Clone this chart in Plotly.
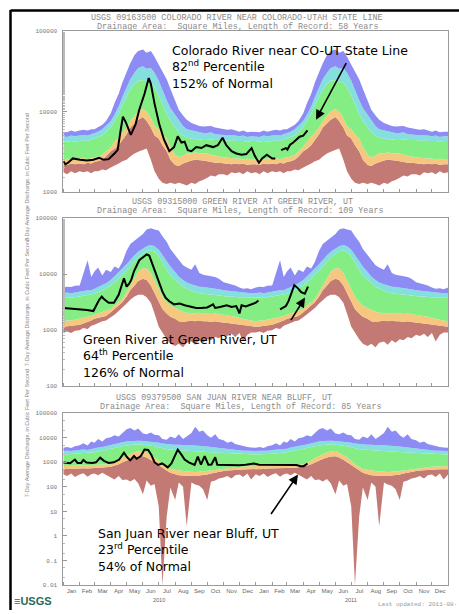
import plotly.graph_objects as go

# ---------------- data ----------------
DAYS = [1, 8, 16, 23]  # 4 statistic points per month (day-of-year statistics, same each year)

# Panel 1: Colorado River near Colorado-Utah state line (cfs)
co_max = [5600,5500,5800,5600, 5800,5900,5800,6000, 6000,6300,6800,7600, 9500,12600,16600,22900,
          31600,39800,50100,56200, 58900,53700,56200,47900, 38000,31600,25100,19100, 13200,10500,8900,7900,
          7200,6900,6600,6500, 6500,6600,6300,6200, 6000,5900,6000,5800, 5600,5800,5500,5600]
co_p90 = [4900,4800,5000,4900, 5000,5100,5000,5200, 5400,5600,6000,6600, 7600,9100,11500,15100,
          20000,25100,30200,34700, 36300,33900,34700,30200, 24000,18200,13800,11000, 9100,7600,6600,6000,
          5800,5600,5500,5400, 5400,5500,5200,5200, 5100,5000,5100,5000, 4900,5000,4800,4900]
co_p75 = [4300,4200,4300,4200, 4300,4400,4300,4500, 4600,4800,5000,5500, 6300,7600,9300,12000,
          15100,18600,21900,24000, 24500,23400,22900,20000, 15800,12000,9300,7600, 6300,5500,5000,4700,
          4600,4500,4500,4400, 4400,4500,4400,4400, 4400,4300,4400,4300, 4300,4300,4200,4300]
co_p25 = [2500,2600,2500,2600, 2600,2650,2550,2650, 2700,2750,2900,3200, 3600,4200,4800,5500,
          6300,7600,8900,10000, 10700,10000,8300,6600, 6000,5200,4600,3600, 2900,2700,2800,3000,
          3000,3100,3000,3000, 3000,2900,2800,2750, 2700,2650,2650,2600, 2600,2500,2600,2500]
co_p10 = [2200,2150,2250,2200, 2250,2200,2300,2250, 2350,2400,2500,2750, 3200,3400,3800,4400,
          5200,6300,7200,7900, 8500,7600,6300,5000, 4600,3800,3200,2500, 2150,2100,2250,2350,
          2450,2500,2500,2450, 2400,2350,2300,2300, 2250,2250,2200,2250, 2200,2250,2150,2200]
co_min = [1750,1650,1800,1700, 1800,1750,1800,1700, 1800,1800,1900,1850, 2000,2100,2250,2400,
          2500,2750,3000,3150, 3300,3450,2500,1800, 1450,1300,1250,1300, 1250,1300,1250,1200,
          1300,1250,1350,1400, 1500,1600,1550,1650, 1650,1600,1750,1700, 1750,1650,1800,1700]
co_obs_dates = ["2010-01-01","2010-01-05","2010-01-10","2010-01-19","2010-02-02","2010-02-15","2010-02-27",
                "2010-03-10","2010-03-19","2010-03-28","2010-04-08","2010-04-14","2010-04-20","2010-04-24",
                "2010-04-30","2010-05-09","2010-05-18","2010-05-25","2010-06-04","2010-06-12","2010-06-16",
                "2010-06-23","2010-07-02","2010-07-11","2010-07-21","2010-07-30","2010-08-06","2010-08-13",
                "2010-08-19","2010-08-25","2010-09-01","2010-09-10","2010-09-20","2010-09-29","2010-10-12",
                "2010-10-21","2010-10-30","2010-11-06","2010-11-16","2010-11-25","2010-12-05","2010-12-14",
                "2010-12-24","2010-12-30","2011-01-07","2011-01-13","2011-01-22","2011-02-01","2011-02-07",
                "2011-02-12",
                "2011-02-18","2011-02-27","2011-03-02","2011-03-07","2011-03-13","2011-03-19","2011-03-25",
                "2011-04-01","2011-04-09"]
co_obs = [2400,2200,2300,2600,2500,2450,2500,
          2650,2500,2550,3000,3300,6000,8600,
          7200,5100,6900,10500,16600,26000,22000,
          12500,6900,4450,3200,3600,4900,4100,
          4200,3300,3200,3600,3500,3800,3600,
          3800,4700,3800,3200,3000,2900,2950,
          3500,2800,2300,2600,2900,2600,2600,
          None,
          3300,3500,3350,3850,4100,4450,4850,
          5000,5800]

# Panel 2: Green River at Green River, UT (cfs)
gr_max = [5800,6000,5900,6200, 6300,10000,17800,8900, 11200,13200,9500,12000, 11000,13800,12600,16600,
          26300,34700,39800,45700, 52500,63100,66100,63100, 60300,47900,38000,28200, 21900,17400,14500,13200,
          12000,15100,10500,9800, 9500,9100,8900,8300, 7200,6900,6600,6300, 5800,5500,5600,5400]
gr_p90 = [4600,4700,4600,4700, 4800,5000,5200,5200, 5500,5900,6300,6900, 7900,9100,10500,12600,
          15100,18200,21900,25100, 28200,31600,33100,31600, 27500,21900,17400,13800, 11000,9100,7900,7100,
          6600,6300,6000,5900, 5800,5600,5500,5400, 5200,5100,5000,4900, 4800,4700,4700,4600]
gr_p75 = [3800,3800,3900,3900, 4000,4100,4200,4300, 4500,4800,5100,5600, 6300,7200,8300,9800,
          11500,13800,16600,20000, 22900,25700,26900,25100, 20900,15800,12000,9500, 7900,6800,6000,5500,
          5000,4800,4600,4500, 4400,4300,4300,4200, 4100,4000,4000,3900, 3900,3800,3800,3800]
gr_p25 = [1450,1500,1500,1550, 1600,1650,1750,1800, 1900,2000,2100,2200, 2400,2750,3150,3600,
          4800,6300,8300,11000, 12900,12600,10500,7600, 5200,4000,3150,2750, 2500,2300,2150,2050,
          2000,2000,2050,2000, 2000,1950,2000,1950, 1900,1850,1800,1750, 1650,1600,1500,1500]
gr_p10 = [1150,1170,1200,1200, 1260,1320,1400,1500, 1600,1650,1750,1800, 2100,2400,2750,3150,
          4000,5200,6300,7600, 8300,7900,6300,4600, 3150,2400,2000,1750, 1600,1450,1400,1450,
          1500,1450,1500,1450, 1450,1400,1450,1400, 1380,1350,1320,1290, 1260,1230,1200,1170]
gr_min = [910,950,890,980, 1000,1100,1050,1200, 1250,1350,1450,1500, 1700,1900,2200,2500,
          3000,3500,4000,4300, 4300,3900,3100,2000, 1150,910,690,575, 525,575,500,600,
          630,550,660,600, 690,660,760,720, 830,790,870,760, 890,630,830,910]
gr_obs_dates = ["2010-01-01","2010-01-16","2010-02-01","2010-02-15","2010-02-27","2010-03-04","2010-03-10",
                "2010-03-15","2010-03-19","2010-03-28","2010-04-07","2010-04-16","2010-04-22","2010-04-26",
                "2010-05-01","2010-05-06","2010-05-10","2010-05-15","2010-05-25","2010-06-04","2010-06-08",
                "2010-06-13","2010-06-19","2010-06-26","2010-07-01","2010-07-08","2010-07-14","2010-07-21",
                "2010-07-30","2010-08-10","2010-08-19","2010-09-01","2010-09-10","2010-09-19","2010-10-01",
                "2010-10-12","2010-10-16","2010-10-25","2010-11-07","2010-11-16","2010-11-25","2010-12-01",
                "2010-12-05","2010-12-13","2010-12-22","2011-01-01","2011-01-06",
                "2011-01-20",
                "2011-02-16","2011-02-27","2011-03-04","2011-03-10","2011-03-15","2011-03-22","2011-03-28",
                "2011-04-04","2011-04-10"]
gr_obs = [2500,2450,2400,2300,2200,2800,3500,
          4000,3600,3100,3100,4300,6500,8500,
          6000,6800,8000,11300,17800,21000,22500,
          21500,15000,9800,7000,4900,3800,3300,
          2900,3000,2800,2600,2500,2500,2550,
          2900,2500,2600,2800,2600,2700,2000,
          2800,2650,2900,3100,3400,
          None,
          2350,2700,3300,4800,6400,5600,4800,
          4500,6000]

# Panel 3: San Juan River near Bluff, UT (cfs)
sj_max = [3900,4200,3800,4500, 5000,6000,4800,7100, 6300,8900,7100,9500, 10500,12600,11200,15800,
          22400,25100,20000,24000, 15100,14100,16600,13200, 12600,8900,8300,11200, 9500,14100,8900,11200,
          15800,28200,17800,20000, 12600,10000,14100,8900, 7900,6300,7100,5600, 5000,4500,4200,4000]
sj_p90 = [2900,3000,2900,3000, 3200,3300,3200,3500, 3600,4000,4200,4600, 5000,5500,6000,6600,
          7100,7400,7600,7600, 7400,7200,6900,6600, 6300,5900,5600,5500, 5200,5200,5000,5000,
          5000,4900,4800,4600, 4400,4200,4000,3800, 3600,3500,3300,3200, 3100,3000,3000,2900]
sj_p75 = [2100,2150,2100,2200, 2250,2300,2350,2450, 2600,2750,2950,3150, 3450,3800,4200,4600,
          4900,5100,5400,5400, 5200,5000,4800,4500, 4100,3700,3450,3300, 3150,3100,3000,2950,
          2900,2800,2750,2700, 2650,2550,2500,2450, 2350,2300,2250,2200, 2150,2150,2100,2100]
sj_p25 = [710,720,710,740, 740,760,740,780, 760,790,780,810, 830,950,1150,1450,
          1800,2200,2500,2800, 2900,2500,2000,1600, 1100,830,660,550, 500,460,440,420,
          400,400,410,420, 440,460,490,520, 550,580,600,630, 660,680,690,710]
sj_p10 = [520,550,540,560, 560,580,560,590, 590,600,600,630, 660,720,830,1000,
          1200,1380,1580,1740, 1780,1580,1260,1000, 760,580,460,380, 330,300,290,280,
          280,280,290,300, 320,350,380,420, 440,460,480,500, 500,510,520,520]
sj_min = [330,280,350,250, 320,360,260,330, 350,300,380,320, 250,200,280,190,
          200,165,210,140, 50,180,110,130, 16,0.01,6,95, 29,150,100,2.5,
          150,125,110,80, 29,160,180,220, 240,280,220,300, 320,250,350,200]
sj_obs_dates = ["2010-01-01","2010-01-09","2010-01-14","2010-01-23","2010-01-28","2010-02-04","2010-02-08",
                "2010-02-14","2010-02-25","2010-03-04","2010-03-12","2010-03-19","2010-03-28","2010-04-07",
                "2010-04-17","2010-04-26","2010-05-02","2010-05-08","2010-05-15","2010-05-20","2010-05-28",
                "2010-06-04","2010-06-11","2010-06-17","2010-06-23","2010-06-30","2010-07-07","2010-07-11",
                "2010-07-18","2010-07-25","2010-08-01","2010-08-06","2010-08-12","2010-08-19","2010-08-27",
                "2010-09-02","2010-09-07","2010-09-13","2010-09-19","2010-09-26","2010-10-03","2010-10-09",
                "2010-10-16","2010-10-20","2010-11-01","2010-11-16","2010-12-01","2010-12-13","2010-12-28",
                "2011-01-07","2011-01-25","2011-02-10","2011-02-25","2011-03-07","2011-03-19","2011-03-27",
                "2011-04-02","2011-04-09"]
sj_obs = [980,950,920,1300,950,950,1250,
          980,950,1000,1550,1150,950,1000,
          1300,2450,1600,1200,1800,1400,1800,
          3300,3200,2000,1000,780,900,800,
          620,900,1800,3300,2200,1300,1000,
          850,780,1700,800,1800,800,820,
          1600,800,780,780,760,800,900,
          800,790,780,820,800,780,700,
          700,900]

STATIONS = [
    ("USGS 09163500 COLORADO RIVER NEAR COLORADO-UTAH STATE LINE",
     "Drainage Area:  Square Miles, Length of Record: 58 Years"),
    ("USGS 09315000 GREEN RIVER AT GREEN RIVER, UT",
     "Drainage Area:  Square Miles, Length of Record: 109 Years"),
    ("USGS 09379500 SAN JUAN RIVER NEAR BLUFF, UT",
     "Drainage Area:  Square Miles, Length of Record: 85 Years"),
]
LABELS = [
    "Colorado River near CO-UT State Line<br>82<sup>nd</sup> Percentile<br>152% of Normal",
    "Green River at Green River, UT<br>64<sup>th</sup> Percentile<br>126% of Normal",
    "San Juan River near Bluff, UT<br>23<sup>rd</sup> Percentile<br>54% of Normal",
]

# ---------------- figure ----------------
W, H = 459, 614
grid = [f"{y}-{m:02d}-{d:02d}" for y in (2010, 2011) for m in range(1, 13) for d in DAYS] + ["2012-01-01"]


def two_years(v):
    return v + v + [v[0]]


COLORS = ["#c47a74", "#f6c77e", "#84ee84", "#86dfdf", "#8c8cf4"]

panels = [
    ([co_min, co_p10, co_p25, co_p75, co_p90, co_max], co_obs_dates, co_obs),
    ([gr_min, gr_p10, gr_p25, gr_p75, gr_p90, gr_max], gr_obs_dates, gr_obs),
    ([sj_min, sj_p10, sj_p25, sj_p75, sj_p90, sj_max], sj_obs_dates, sj_obs),
]

fig = go.Figure()
for i, (bands, odates, obs) in enumerate(panels):
    xa = "x" if i == 0 else f"x{i+1}"
    ya = "y" if i == 0 else f"y{i+1}"
    for j, band in enumerate(bands):
        fig.add_trace(go.Scatter(
            x=grid, y=two_years(band), xaxis=xa, yaxis=ya, mode="lines",
            line=dict(width=0, color=COLORS[max(j - 1, 0)]),
            fill=None if j == 0 else "tonexty",
            fillcolor=None if j == 0 else COLORS[j - 1],
            hoverinfo="skip", showlegend=False))
    fig.add_trace(go.Scatter(
        x=odates, y=obs, xaxis=xa, yaxis=ya, mode="lines",
        line=dict(color="black", width=2), connectgaps=False, showlegend=False))


def py(p):
    return 1 - p / H


def px(p):
    return p / W


XDOM = [px(63.3), px(448.3)]
YDOMS = [[py(191), py(28.3)], [py(387.7), py(217.7)], [py(588.7), py(415)]]
YRANGES = [[3, 5], [2, 5], [-2, 5]]
YTICKS = [[1000, 10000, 100000], [100, 1000, 10000, 100000],
          [0.01, 0.1, 1, 10, 100, 1000, 10000, 100000]]
YTEXT = [["1000", "10000", "100000"], ["100", "1000", "10000", "100000"],
         ["0.01", "0.1", "1", "10", "100", "1000", "10000", "100000"]]

layout = dict(width=W, height=H, margin=dict(l=0, r=0, t=0, b=0),
              paper_bgcolor="white", plot_bgcolor="white", showlegend=False)
for i in range(3):
    xk = "xaxis" if i == 0 else f"xaxis{i+1}"
    yk = "yaxis" if i == 0 else f"yaxis{i+1}"
    ya = "y" if i == 0 else f"y{i+1}"
    xa = "x" if i == 0 else f"x{i+1}"
    layout[xk] = dict(domain=XDOM, anchor=ya, type="date",
                      range=["2010-01-01", "2012-01-01"],
                      dtick="M1", tick0="2010-01-01", ticklabelmode="period",
                      tickformat="%b", ticks="inside", ticklen=3, tickcolor="#999",
                      showticklabels=(i == 2), ticklabelstandoff=0,
                      tickfont=dict(family="Liberation Sans", size=6, color="#666"),
                      showgrid=False, zeroline=False,
                      showline=True, mirror=True, linecolor="#9a9a9a", linewidth=1)
    layout[yk] = dict(domain=YDOMS[i], anchor=xa, type="log", range=YRANGES[i],
                      tickvals=YTICKS[i], ticktext=YTEXT[i],
                      ticks="inside", ticklen=4, tickcolor="#999",
                      minor=dict(ticks="inside", ticklen=2, tickcolor="#bbb", showgrid=False),
                      tickfont=dict(family="Liberation Mono", size=6, color="#777"),
                      ticklabelstandoff=4,
                      showgrid=False, zeroline=False,
                      showline=True, mirror=True, linecolor="#9a9a9a", linewidth=1)
fig.update_layout(**layout)

ann = []
TITLE_Y = [(15, 24), (201, 210.7), (400, 408.3)]
TITLE_X = [(237, 237), (242, 240), (224, 241)]
for i, (t1, t2) in enumerate(STATIONS):
    for txt, yy, xx in ((t1, TITLE_Y[i][0], TITLE_X[i][0]), (t2, TITLE_Y[i][1], TITLE_X[i][1])):
        ann.append(dict(text=txt, x=px(xx), y=py(yy), xref="paper", yref="paper",
                        showarrow=False, xanchor="center", yanchor="middle",
                        font=dict(family="Liberation Mono", size=8.4, color="#8a8a8a")))
    ann.append(dict(text="7-Day Average Discharge, in Cubic Feet Per Second",
                    x=px(22), y=(YDOMS[i][0] + YDOMS[i][1]) / 2, xref="paper", yref="paper",
                    textangle=-90, showarrow=False,
                    font=dict(family="Liberation Sans", size=5.5, color="#888")))

# label blocks: left edge and centre of the middle line (pixels)
LABEL_POS = [(170, 64.5), (81, 356.7), (96, 553.3)]
for (lx, ly), txt in zip(LABEL_POS, LABELS):
    ann.append(dict(text=txt, x=px(lx), y=py(ly), xref="paper", yref="paper",
                    xanchor="left", yanchor="middle", align="left", showarrow=False,
                    font=dict(family="DejaVu Sans", size=12.5, color="black")))

ARROWS = [((316, 118), (347, 60)), ((305, 298), (290, 322)), ((298, 477), (270, 518))]
for (hx, hy), (tx, ty) in ARROWS:
    ann.append(dict(text="", x=px(hx), y=py(hy), xref="paper", yref="paper",
                    showarrow=True, ax=tx - hx, ay=ty - hy, arrowhead=2, arrowsize=1.2,
                    arrowwidth=1.6, arrowcolor="black"))

for yr in ("2010", "2011"):
    ann.append(dict(text=yr, x=f"{yr}-07-01", xref="x3", y=py(604), yref="paper",
                    showarrow=False, yanchor="middle",
                    font=dict(family="Liberation Sans", size=5.5, color="#666")))

ann.append(dict(text="<b>≡USGS</b>", x=px(12), y=py(605), xref="paper", yref="paper",
                xanchor="left", yanchor="middle", showarrow=False,
                font=dict(family="Liberation Sans", size=11, color="#2a6a58")))
ann.append(dict(text="Last updated: 2011-08-", x=1.0, y=py(608), xref="paper", yref="paper",
                xanchor="right", yanchor="middle", showarrow=False,
                font=dict(family="Liberation Mono", size=6, color="#999")))

fig.update_layout(annotations=ann, shapes=[
    dict(type="line", xref="paper", yref="paper", x0=px(10.5), x1=px(10.5), y0=py(7), y1=0,
         line=dict(color="black", width=2.5)),
    dict(type="line", xref="paper", yref="paper", x0=px(10.5), x1=1, y0=py(7.5), y1=py(7.5),
         line=dict(color="black", width=2.5)),
])

fig.write_html("out.html", config={"displayModeBar": False},
               post_script="document.body.style.margin='0';")
